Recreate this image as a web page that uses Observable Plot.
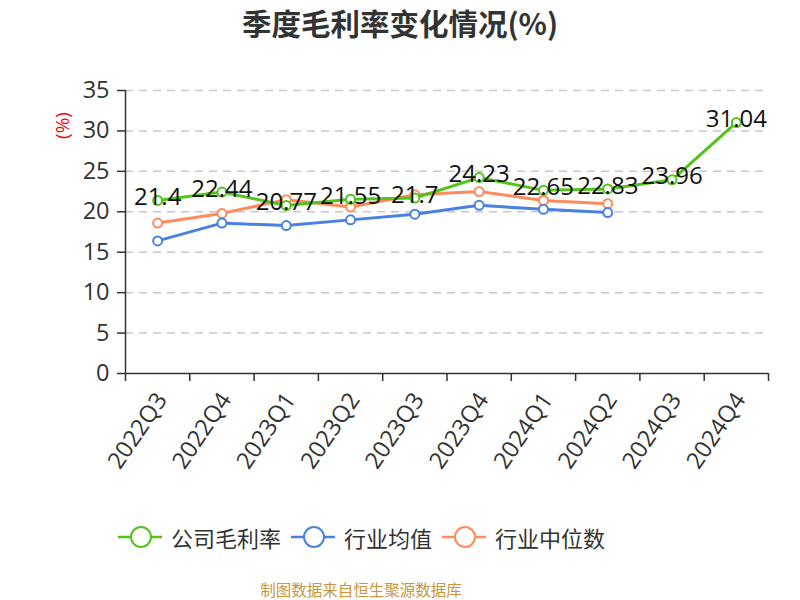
<!DOCTYPE html>
<html>
<head>
<meta charset="utf-8">
<script src="https://cdn.jsdelivr.net/npm/d3@7"></script>
<script src="https://cdn.jsdelivr.net/npm/@observablehq/plot@0.6"></script>
<style>
  body { margin: 0; background: #fff; font-family: "Open Sans", "Noto Sans CJK SC", sans-serif; }
  #wrap { position: relative; width: 800px; height: 600px; overflow: hidden; }
  #title { position: absolute; top: 0; left: 0; width: 800px; height: 44px; line-height: 44px; text-align: center;
           font-size: 29.5px; font-weight: bold; color: #333; font-family: "Noto Sans CJK SC", sans-serif; }
  #chart { position: absolute; top: 45px; left: 0; }
  #legend { position: absolute; top: 522px; left: 118px; display: flex; align-items: center; gap: 0; height: 30px;
            font-size: 22px; color: #333; font-family: "Noto Sans CJK SC", sans-serif; }
  .item { display: flex; align-items: center; margin-right: 10px; }
  .item svg { margin-right: 9px; }
  #footer { position: absolute; top: 578px; left: 0; width: 722px; text-align: center; font-size: 15.5px;
            color: #c8963c; font-family: "Noto Sans CJK SC", sans-serif; }
</style>
</head>
<body>
<div id="wrap">
  <div id="title">季度毛利率变化情况(%)</div>
  <div id="chart"></div>
  <div id="legend"></div>
  <div id="footer">制图数据来自恒生聚源数据库</div>
</div>
<script>
const quarters = ["2022Q3","2022Q4","2023Q1","2023Q2","2023Q3","2023Q4","2024Q1","2024Q2","2024Q3","2024Q4"];
const company = [21.4, 22.44, 20.77, 21.55, 21.7, 24.23, 22.65, 22.83, 23.96, 31.04];
const industryAvg = [16.4, 18.6, 18.3, 19.0, 19.7, 20.8, 20.3, 19.9];
const industryMedian = [18.6, 19.8, 21.5, 20.6, 22.1, 22.5, 21.4, 21.0];
const yTicks = [0, 5, 10, 15, 20, 25, 30, 35];
const seriesNames = ["公司毛利率", "行业均值", "行业中位数"];
const colors = ["#52c41a", "#4a80e0", "#ff8a5b"];

const toRows = (vals) => vals.map((v, i) => ({x: i + 0.5, y: v, q: quarters[i]}));
const cRows = toRows(company), aRows = toRows(industryAvg), mRows = toRows(industryMedian);
const bounds = d3.range(quarters.length + 1);
const centers = quarters.map((q, i) => ({x: i + 0.5, q}));

const seriesMarks = (rows, color) => [
  Plot.line(rows, {x: "x", y: "y", stroke: color, strokeWidth: 3}),
  Plot.dot(rows, {x: "x", y: "y", r: 4.5, fill: "white", stroke: color, strokeWidth: 2})
];

const plot = Plot.plot({
  width: 800,
  height: 455,
  marginTop: 45,
  marginBottom: 127,
  marginLeft: 125,
  marginRight: 32,
  style: {fontFamily: "'Open Sans', 'Noto Sans CJK SC', sans-serif", background: "transparent"},
  x: {type: "linear", domain: [0, quarters.length]},
  y: {domain: [0, 35]},
  marks: [
    Plot.ruleY(yTicks.filter(d => d > 0), {stroke: "#c8c8c8", strokeWidth: 1.5, strokeDasharray: "8,6"}),
    Plot.axisY(yTicks, {tickSize: 8, tickPadding: 8, fontSize: 23.5, color: "#333", stroke: "#333", strokeWidth: 1.5, label: null}),
    Plot.axisX(bounds, {tickSize: 8, tickFormat: () => "", stroke: "#333", strokeWidth: 1.5, label: null}),
    Plot.ruleX([0], {stroke: "#333", strokeWidth: 1.5}),
    Plot.ruleY([0], {stroke: "#333", strokeWidth: 1.5}),
    Plot.text(centers, {x: "x", y: () => 0, text: "q", rotate: -56, textAnchor: "end", lineAnchor: "middle",
      dx: 4, dy: 22, fontSize: 23.5, fill: "#333"}),
    Plot.text(["(%)"], {frameAnchor: "top-left", text: d => d, dx: -63, dy: 35, rotate: -90, fill: "red", fontSize: 19,
      textAnchor: "middle", lineAnchor: "middle"}),
    ...seriesMarks(mRows, colors[2]),
    ...seriesMarks(aRows, colors[1]),
    ...seriesMarks(cRows, colors[0]),
    Plot.text(cRows, {x: "x", y: "y", text: d => String(d.y), dy: -3, fontSize: 24, fill: "#111", lineAnchor: "middle"})
  ]
});
document.getElementById("chart").appendChild(plot);

const legend = document.getElementById("legend");
seriesNames.forEach((name, i) => {
  const item = document.createElement("div");
  item.className = "item";
  item.innerHTML = `<svg width="44" height="24"><line x1="0" y1="12" x2="44" y2="12" stroke="${colors[i]}" stroke-width="2.5"/>` +
    `<circle cx="23" cy="12" r="10" fill="white" stroke="${colors[i]}" stroke-width="2"/></svg><span>${name}</span>`;
  legend.appendChild(item);
});
</script>
</body>
</html>
